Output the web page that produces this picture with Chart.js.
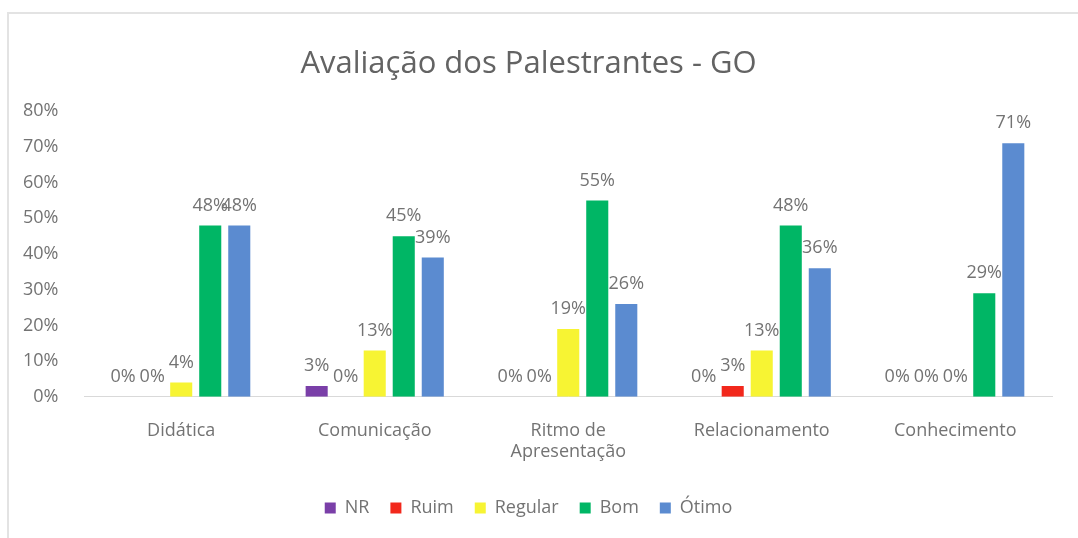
<!DOCTYPE html>
<html>
<head>
<meta charset="utf-8">
<script src="https://cdn.jsdelivr.net/npm/chart.js@4"></script>
<style>
  html, body { margin: 0; padding: 0; background: #fff; overflow: hidden; }
  #frame { position: absolute; left: 7px; top: 12px; width: 1100px; height: 560px; border: 2px solid #e3e3e3; }
  #wrap { position: absolute; left: 0; top: 0; width: 1078px; height: 538px; }
</style>
</head>
<body>
<div id="frame"></div>
<div id="wrap"><canvas id="evalChart"></canvas></div>
<script>
const categories = ['Didática', 'Comunicação', ['Ritmo de', 'Apresentação'], 'Relacionamento', 'Conhecimento'];
const nr      = [0, 3, 0, 0, 0];
const ruim    = [0, 0, 0, 3, 0];
const regular = [4, 13, 19, 13, 0];
const bom     = [48, 45, 55, 48, 29];
const otimo   = [48, 39, 26, 36, 71];

const textGray = '#737373';
const fontName = '"Open Sans", Lato, sans-serif';

// % value above each bar, drawn before the bars so taller neighbours cover it
const valueLabels = {
  id: 'valueLabels',
  beforeDatasetsDraw(chart) {
    const ctx = chart.ctx;
    ctx.save();
    ctx.font = '18px ' + fontName;
    ctx.fillStyle = textGray;
    ctx.textAlign = 'center';
    ctx.textBaseline = 'bottom';
    chart.data.datasets.forEach((ds, i) => {
      chart.getDatasetMeta(i).data.forEach((bar, j) => {
        ctx.fillText(ds.data[j] + '%', bar.x, bar.y - 11);
      });
    });
    ctx.restore();
  }
};

const canvas = document.getElementById('evalChart');
const ctx = canvas.getContext('2d');

new Chart(ctx, {
  type: 'bar',
  data: {
    labels: categories,
    datasets: [
      { label: 'NR', data: nr, backgroundColor: '#7a3fa8' },
      { label: 'Ruim', data: ruim, backgroundColor: '#f2281c' },
      { label: 'Regular', data: regular, backgroundColor: '#f7f433' },
      { label: 'Bom', data: bom, backgroundColor: '#00b665' },
      { label: 'Ótimo', data: otimo, backgroundColor: '#5b8bd0' }
    ]
  },
  options: {
    responsive: true,
    maintainAspectRatio: false,
    animation: false,
    layout: { padding: { left: 5, right: 26, top: 46, bottom: 11 } },
    datasets: { bar: { categoryPercentage: 0.75, barPercentage: 0.76 } },
    plugins: {
      title: {
        display: true,
        text: 'Avaliação dos Palestrantes - GO',
        color: '#636363',
        font: { family: fontName, size: 31, weight: 'normal' },
        padding: { top: 0, bottom: 28 }
      },
      legend: {
        position: 'bottom',
        labels: {
          color: textGray,
          boxWidth: 11,
          boxHeight: 11,
          padding: 21,
          font: { family: fontName, size: 18 }
        }
      },
      tooltip: { enabled: false }
    },
    scales: {
      x: {
        grid: { display: false },
        border: { color: '#d9d9d9', width: 1 },
        ticks: { color: textGray, font: { family: fontName, size: 18 }, padding: 15 }
      },
      y: {
        min: 0,
        max: 80,
        grid: { display: false },
        border: { display: false },
        ticks: {
          stepSize: 10,
          color: textGray,
          padding: 18,
          font: { family: fontName, size: 18 },
          callback: v => v + '%'
        }
      }
    }
  },
  plugins: [valueLabels]
});
</script>
</body>
</html>
